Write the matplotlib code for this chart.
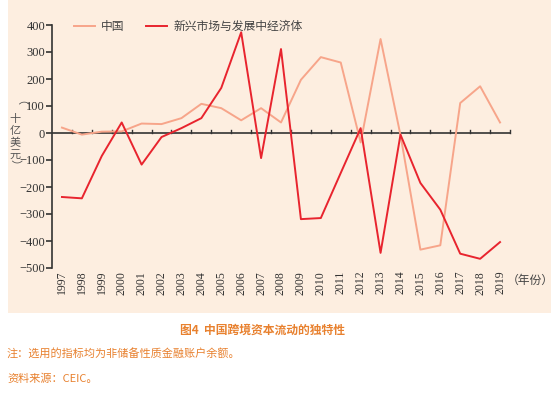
import matplotlib
matplotlib.use("Agg")
import matplotlib.pyplot as plt
from matplotlib.patches import Rectangle

plt.rcParams['font.family'] = ['Noto Sans CJK SC', 'DejaVu Sans']

years = list(range(1997, 2020))
china = [20, -6, 5, 6, 35, 33, 55, 108, 92, 47, 92, 39, 197, 281, 261, -35, 348, -8,
         -432, -416, 111, 173, 39]
emde = [-237, -242, -85, 39, -117, -15, 18, 55, 167, 373, -93, 311, -319, -315, -148,
        18, -444, -6, -185, -284, -447, -466, -404]
yticks = [-500, -400, -300, -200, -100, 0, 100, 200, 300, 400]
series_names = ['中国', '新兴市场与发展中经济体']
ylabel_chars = ['十', '亿', '美', '元']
title = '图4  中国跨境资本流动的独特性'
note1 = '注：选用的指标均为非储备性质金融账户余额。'
note2 = '资料来源：CEIC。'

W, H = 554, 394
fig = plt.figure(figsize=(W / 100, H / 100), dpi=100)
fig.patch.set_facecolor('white')
bg = '#FDEEE0'
rect = Rectangle((8 / W, 1 - 313 / H), (551 - 8) / W, 313 / H,
                 transform=fig.transFigure, facecolor=bg, edgecolor='none', zorder=-10)
fig.patches.append(rect)

ax = fig.add_axes([52 / W, 1 - 268 / H, (510 - 52) / W, (268 - 25) / H])
ax.set_zorder(5)
ax.set_facecolor('none')
c_china = '#F7A58A'
c_em = '#E8242E'
ax.plot(years, china, color=c_china, lw=1.4, label=series_names[0], zorder=3)
ax.plot(years, emde, color=c_em, lw=1.4, label=series_names[1], zorder=4)

ax.set_xlim(1996.5, 2019.5)
ax.set_ylim(-500, 400)
for s in ['top', 'right', 'bottom']:
    ax.spines[s].set_visible(False)
ax.spines['left'].set_color('#333333')
ax.spines['left'].set_linewidth(1.2)
ax.axhline(0, color='#333333', lw=1.2, zorder=2)
for b in [y + 0.5 for y in years]:
    ax.plot([b, b], [0, 12], color='#333333', lw=1.0, zorder=2, clip_on=False)

ax.set_yticks(yticks)
ax.set_yticklabels([('−' + str(-v)) if v < 0 else str(v) for v in yticks],
                   family='Liberation Serif', fontsize=9, color='#333333')
ax.tick_params(axis='y', direction='out', length=4, width=1.2, color='#333333', pad=1)
ax.set_xticks(years)
ax.set_xticklabels([str(y) for y in years], rotation=90, family='Liberation Serif',
                   fontsize=8.5, color='#333333')
ax.tick_params(axis='x', length=0, pad=2)

leg = ax.legend(loc='upper left', bbox_to_anchor=(0.025, 1.065), ncol=2, frameon=False,
                fontsize=8.5, handlelength=1.8, handletextpad=0.5, columnspacing=1.8,
                labelcolor='#444444')

# vertical y label
fig.text(15 / W, 1 - 106 / H, '（', rotation=-90, ha='center', va='center',
         fontsize=8, color='#555555')
for i, ch in enumerate(ylabel_chars):
    fig.text(15 / W, 1 - (119 + i * 12) / H, ch, ha='center', va='center',
             fontsize=8, color='#555555', rotation=0)
fig.text(15 / W, 1 - 165 / H, '）', rotation=-90, ha='center', va='center',
         fontsize=8, color='#555555')
fig.text(530 / W, 1 - 280 / H, '（年份）', ha='center', va='center', fontsize=8.5,
         color='#444444')

orange = '#E8812F'
fig.text(262 / W, 1 - 330 / H, title, ha='center', va='center', fontsize=8.5,
         color=orange, fontweight='bold')
fig.text(7 / W, 1 - 353 / H, note1, ha='left', va='center', fontsize=8, color=orange)
fig.text(7 / W, 1 - 379 / H, note2, ha='left', va='center', fontsize=8, color=orange)

fig.savefig('out.png', dpi=100, facecolor='white')
